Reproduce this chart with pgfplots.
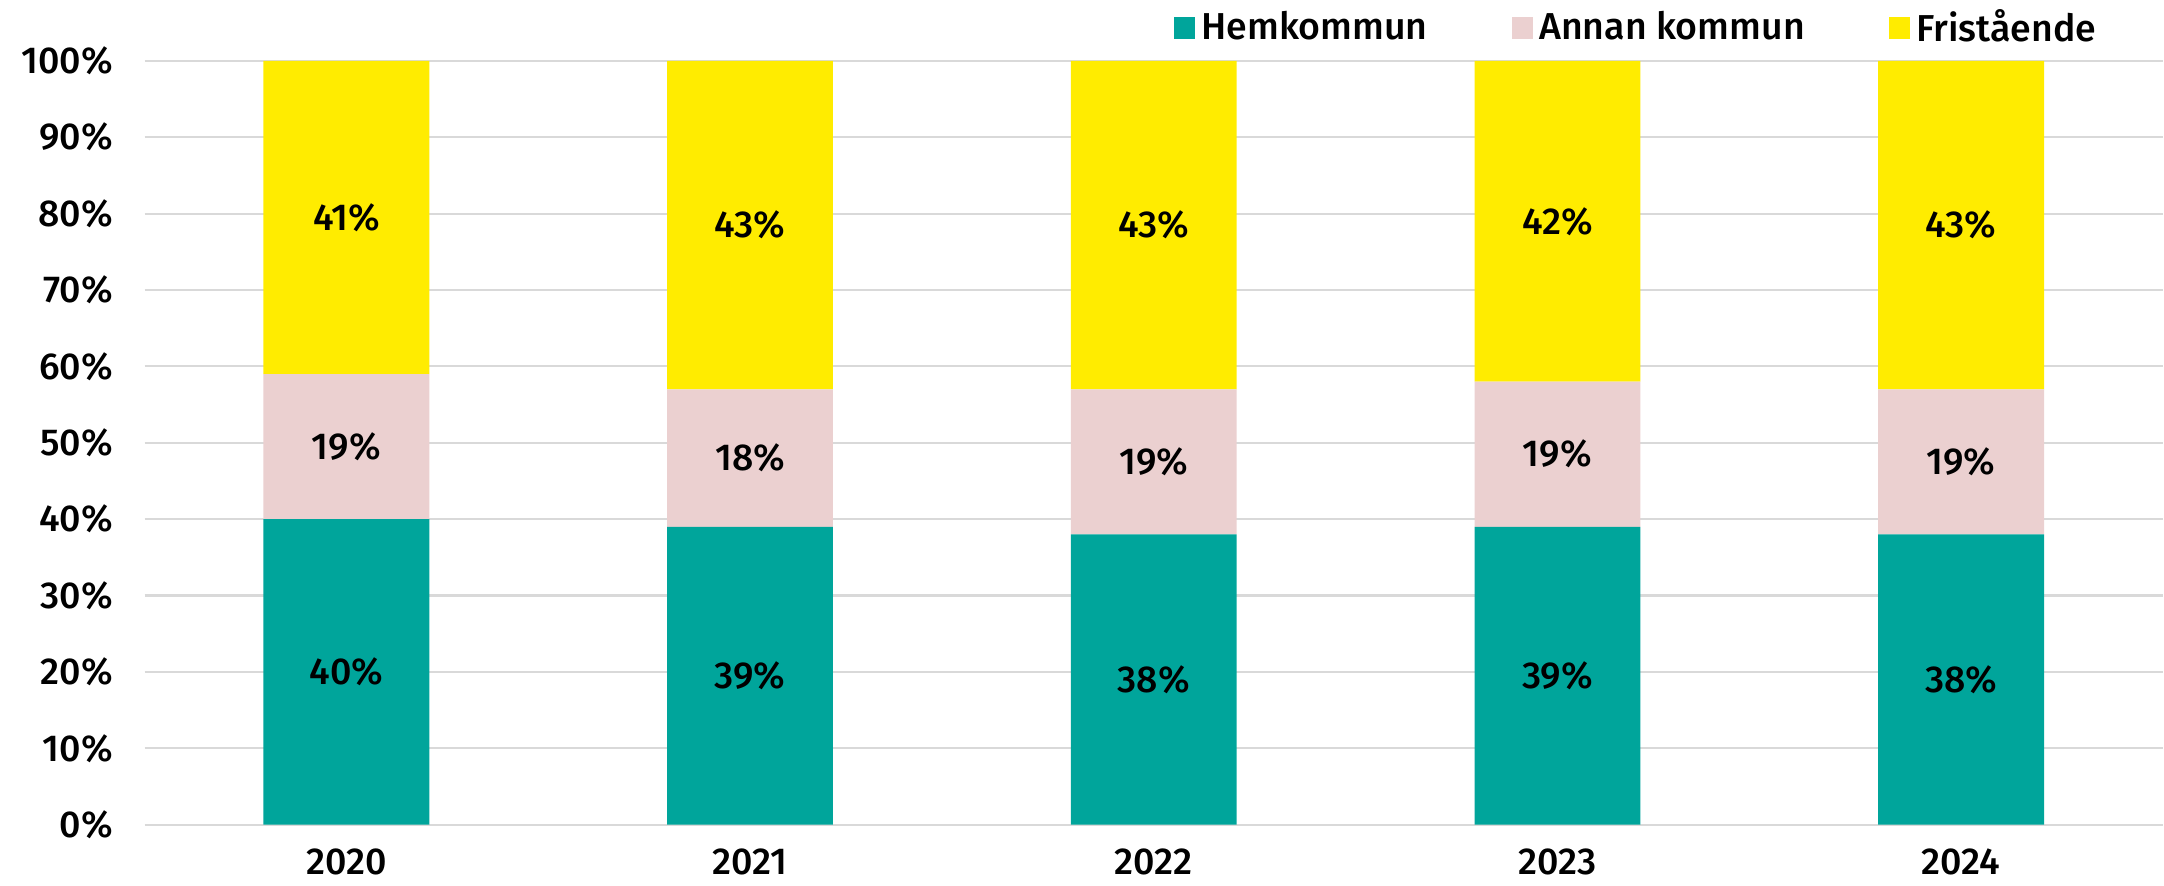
\documentclass[border=0pt]{standalone}
\usepackage{fontspec}
\setmainfont{Fira Sans Medium}
\usepackage{pgfplots}
\pgfplotsset{compat=1.18}
\usepackage{pgfplotstable}
\definecolor{hem}{RGB}{0,165,155}
\definecolor{annan}{RGB}{235,208,208}
\definecolor{fri}{RGB}{255,236,0}
\definecolor{gridc}{RGB}{217,217,217}

\pgfplotstableread{
x hem annan fri
0 40 19 41
1 39 18 43
2 38 19 43
3 39 19 42
4 38 19 43
}\data

\begin{document}
\begin{tikzpicture}
\begin{axis}[
  at={(0.9pt,0pt)}, anchor=south west,
  scale only axis,
  width=673.1pt, height=254.7pt,
  ybar stacked,
  bar width=55.3pt,
  xmin=-0.5, xmax=4.5,
  ymin=0, ymax=100,
  xtick=data,
  xticklabels={2020,2021,2022,2023,2024},
  ytick={0,10,...,100},
  yticklabel={\pgfmathprintnumber{\tick}\%},
  /pgf/number format/assume math mode=true,
  axis line style={draw=none},
  major tick length=0pt,
  ymajorgrids,
  grid style={gridc, line width=0.7pt},
  tick label style={font=\fontsize{12.5}{14}\selectfont, text=black},
  yticklabel style={xshift=-7pt},
  xticklabel style={inner sep=2pt, yshift=-5.8pt},
  point meta=explicit,
  nodes near coords={\pgfmathprintnumber{\pgfplotspointmeta}\%},
  every node near coord/.append style={
    anchor=center, text=black, font=\fontsize{12.5}{14}\selectfont
  },
  legend columns=3,
  legend style={at={(0.9702,1)}, anchor=east, yshift=11pt, draw=none, fill=none,
    inner sep=0pt, nodes={inner ysep=1pt},
    font=\fontsize{12.5}{14}\selectfont,
    /tikz/every even column/.append style={column sep=26pt}},
  legend image code/.code={\path[#1, draw=none] (0pt,-3.6pt) rectangle (7.2pt,3.6pt);},
]
\addplot[fill=hem, draw=none] table[x=x, y=hem, meta=hem] {\data};
\addplot[fill=annan, draw=none] table[x=x, y=annan, meta=annan] {\data};
\addplot[fill=fri, draw=none] table[x=x, y=fri, meta=fri] {\data};
\legend{Hemkommun, Annan kommun, Fristående}
\end{axis}
\path (-47.3pt,-20.3pt) rectangle (674pt,275pt);
\end{tikzpicture}
\end{document}
